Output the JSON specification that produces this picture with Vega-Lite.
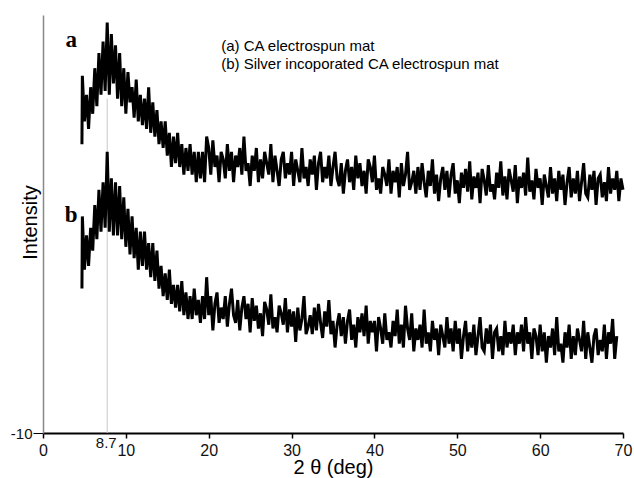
{
  "$schema": "https://vega.github.io/schema/vega-lite/v6.json",
  "width": 580,
  "height": 418,
  "autosize": "none",
  "padding": {"left": 43, "top": 15, "right": 11, "bottom": 45},
  "config": {"view": {"stroke": null}, "font": "Liberation Sans", "axis": {"grid": false}},
  "datasets": {
    "xrd": [
      {"s":"a","x":4.7,"y":66},{"s":"a","x":4.75,"y":84},{"s":"a","x":5,"y":72},{"s":"a","x":5.25,"y":79},{"s":"a","x":5.5,"y":70},{"s":"a","x":5.75,"y":81},{"s":"a","x":6,"y":74},{"s":"a","x":6.25,"y":86},{"s":"a","x":6.5,"y":76},{"s":"a","x":6.75,"y":90},{"s":"a","x":7,"y":79},{"s":"a","x":7.25,"y":93},{"s":"a","x":7.5,"y":80},{"s":"a","x":7.75,"y":98},{"s":"a","x":8,"y":79},{"s":"a","x":8.25,"y":95},{"s":"a","x":8.5,"y":82},{"s":"a","x":8.75,"y":92},{"s":"a","x":9,"y":78},{"s":"a","x":9.25,"y":90},{"s":"a","x":9.5,"y":76},{"s":"a","x":9.75,"y":86},{"s":"a","x":10,"y":74},{"s":"a","x":10.25,"y":85},{"s":"a","x":10.5,"y":77},{"s":"a","x":10.75,"y":81},{"s":"a","x":11,"y":73},{"s":"a","x":11.25,"y":83},{"s":"a","x":11.5,"y":72},{"s":"a","x":11.75,"y":79},{"s":"a","x":12,"y":71},{"s":"a","x":12.25,"y":78},{"s":"a","x":12.5,"y":70},{"s":"a","x":12.75,"y":81},{"s":"a","x":13,"y":69},{"s":"a","x":13.25,"y":77},{"s":"a","x":13.5,"y":68},{"s":"a","x":13.75,"y":75},{"s":"a","x":14,"y":66},{"s":"a","x":14.25,"y":72},{"s":"a","x":14.5,"y":65},{"s":"a","x":14.75,"y":72},{"s":"a","x":15,"y":63},{"s":"a","x":15.25,"y":69},{"s":"a","x":15.5,"y":60},{"s":"a","x":15.75,"y":68},{"s":"a","x":16,"y":61},{"s":"a","x":16.25,"y":69},{"s":"a","x":16.5,"y":60},{"s":"a","x":16.75,"y":66},{"s":"a","x":17,"y":58},{"s":"a","x":17.25,"y":65},{"s":"a","x":17.5,"y":59},{"s":"a","x":17.75,"y":66},{"s":"a","x":18,"y":58},{"s":"a","x":18.25,"y":64},{"s":"a","x":18.5,"y":56},{"s":"a","x":18.75,"y":64},{"s":"a","x":19,"y":57},{"s":"a","x":19.25,"y":64},{"s":"a","x":19.5,"y":56},{"s":"a","x":19.75,"y":68},
      {"s":"a","x":20,"y":65},{"s":"a","x":20.25,"y":58},{"s":"a","x":20.5,"y":67},{"s":"a","x":20.75,"y":60},{"s":"a","x":21,"y":63},{"s":"a","x":21.25,"y":56},{"s":"a","x":21.5,"y":64},{"s":"a","x":21.75,"y":62},{"s":"a","x":22,"y":57},{"s":"a","x":22.25,"y":66},{"s":"a","x":22.5,"y":59},{"s":"a","x":22.75,"y":64},{"s":"a","x":23,"y":56},{"s":"a","x":23.25,"y":63},{"s":"a","x":23.5,"y":60},{"s":"a","x":23.75,"y":65},{"s":"a","x":24,"y":58},{"s":"a","x":24.25,"y":68},{"s":"a","x":24.5,"y":59},{"s":"a","x":24.75,"y":61},
      {"s":"a","x":25,"y":55},{"s":"a","x":25.25,"y":63},{"s":"a","x":25.5,"y":59},{"s":"a","x":25.75,"y":65},{"s":"a","x":26,"y":56},{"s":"a","x":26.25,"y":62},{"s":"a","x":26.5,"y":57},{"s":"a","x":26.75,"y":64},{"s":"a","x":27,"y":61},{"s":"a","x":27.25,"y":58},{"s":"a","x":27.5,"y":66},{"s":"a","x":27.75,"y":56},{"s":"a","x":28,"y":63},{"s":"a","x":28.25,"y":59},{"s":"a","x":28.5,"y":55},{"s":"a","x":28.75,"y":62},{"s":"a","x":29,"y":64},{"s":"a","x":29.25,"y":57},{"s":"a","x":29.5,"y":61},{"s":"a","x":29.75,"y":58},
      {"s":"a","x":30,"y":64},{"s":"a","x":30.25,"y":55},{"s":"a","x":30.5,"y":62},{"s":"a","x":30.75,"y":59},{"s":"a","x":31,"y":56},{"s":"a","x":31.25,"y":65},{"s":"a","x":31.5,"y":57},{"s":"a","x":31.75,"y":60},{"s":"a","x":32,"y":55},{"s":"a","x":32.25,"y":62},{"s":"a","x":32.5,"y":58},{"s":"a","x":32.75,"y":63},{"s":"a","x":33,"y":54},{"s":"a","x":33.25,"y":61},{"s":"a","x":33.5,"y":64},{"s":"a","x":33.75,"y":56},{"s":"a","x":34,"y":60},{"s":"a","x":34.25,"y":57},{"s":"a","x":34.5,"y":63},{"s":"a","x":34.75,"y":55},
      {"s":"a","x":35,"y":60},{"s":"a","x":35.25,"y":64},{"s":"a","x":35.5,"y":57},{"s":"a","x":35.75,"y":55},{"s":"a","x":36,"y":61},{"s":"a","x":36.25,"y":53},{"s":"a","x":36.5,"y":59},{"s":"a","x":36.75,"y":62},{"s":"a","x":37,"y":56},{"s":"a","x":37.25,"y":60},{"s":"a","x":37.5,"y":54},{"s":"a","x":37.75,"y":63},{"s":"a","x":38,"y":57},{"s":"a","x":38.25,"y":61},{"s":"a","x":38.5,"y":55},{"s":"a","x":38.75,"y":59},{"s":"a","x":39,"y":53},{"s":"a","x":39.25,"y":62},{"s":"a","x":39.5,"y":60},{"s":"a","x":39.75,"y":56},
      {"s":"a","x":40,"y":63},{"s":"a","x":40.25,"y":54},{"s":"a","x":40.5,"y":57},{"s":"a","x":40.75,"y":53},{"s":"a","x":41,"y":60},{"s":"a","x":41.25,"y":58},{"s":"a","x":41.5,"y":55},{"s":"a","x":41.75,"y":62},{"s":"a","x":42,"y":53},{"s":"a","x":42.25,"y":59},{"s":"a","x":42.5,"y":56},{"s":"a","x":42.75,"y":60},{"s":"a","x":43,"y":52},{"s":"a","x":43.25,"y":61},{"s":"a","x":43.5,"y":55},{"s":"a","x":43.75,"y":58},{"s":"a","x":44,"y":64},{"s":"a","x":44.25,"y":54},{"s":"a","x":44.5,"y":56},{"s":"a","x":44.75,"y":59},
      {"s":"a","x":45,"y":53},{"s":"a","x":45.25,"y":60},{"s":"a","x":45.5,"y":54},{"s":"a","x":45.75,"y":61},{"s":"a","x":46,"y":56},{"s":"a","x":46.25,"y":52},{"s":"a","x":46.5,"y":59},{"s":"a","x":46.75,"y":55},{"s":"a","x":47,"y":62},{"s":"a","x":47.25,"y":53},{"s":"a","x":47.5,"y":58},{"s":"a","x":47.75,"y":51},{"s":"a","x":48,"y":57},{"s":"a","x":48.25,"y":60},{"s":"a","x":48.5,"y":54},{"s":"a","x":48.75,"y":59},{"s":"a","x":49,"y":52},{"s":"a","x":49.25,"y":58},{"s":"a","x":49.5,"y":61},{"s":"a","x":49.75,"y":53},
      {"s":"a","x":50,"y":56.5},{"s":"a","x":50.25,"y":50.5},{"s":"a","x":50.5,"y":58.5},{"s":"a","x":50.75,"y":54.5},{"s":"a","x":51,"y":59.5},{"s":"a","x":51.25,"y":53.5},{"s":"a","x":51.5,"y":61.5},{"s":"a","x":51.75,"y":51.5},{"s":"a","x":52,"y":57.5},{"s":"a","x":52.25,"y":54.5},{"s":"a","x":52.5,"y":58.5},{"s":"a","x":52.75,"y":50.5},{"s":"a","x":53,"y":59.5},{"s":"a","x":53.25,"y":56.5},{"s":"a","x":53.5,"y":52.5},{"s":"a","x":53.75,"y":60.5},{"s":"a","x":54,"y":53.5},{"s":"a","x":54.25,"y":55.5},{"s":"a","x":54.5,"y":51.5},{"s":"a","x":54.75,"y":58.5},
      {"s":"a","x":55,"y":54.5},{"s":"a","x":55.25,"y":61.5},{"s":"a","x":55.5,"y":52.5},{"s":"a","x":55.75,"y":57.5},{"s":"a","x":56,"y":51.5},{"s":"a","x":56.25,"y":59.5},{"s":"a","x":56.5,"y":56.5},{"s":"a","x":56.75,"y":53.5},{"s":"a","x":57,"y":60.5},{"s":"a","x":57.25,"y":50.5},{"s":"a","x":57.5,"y":57.5},{"s":"a","x":57.75,"y":54.5},{"s":"a","x":58,"y":58.5},{"s":"a","x":58.25,"y":52.5},{"s":"a","x":58.5,"y":62.5},{"s":"a","x":58.75,"y":53.5},{"s":"a","x":59,"y":56.5},{"s":"a","x":59.25,"y":51.5},{"s":"a","x":59.5,"y":59.5},{"s":"a","x":59.75,"y":54.5},
      {"s":"a","x":60,"y":57},{"s":"a","x":60.25,"y":50},{"s":"a","x":60.5,"y":58},{"s":"a","x":60.75,"y":55},{"s":"a","x":61,"y":52},{"s":"a","x":61.25,"y":60},{"s":"a","x":61.5,"y":53},{"s":"a","x":61.75,"y":57},{"s":"a","x":62,"y":51},{"s":"a","x":62.25,"y":59},{"s":"a","x":62.5,"y":54},{"s":"a","x":62.75,"y":58},{"s":"a","x":63,"y":50},{"s":"a","x":63.25,"y":56},{"s":"a","x":63.5,"y":60},{"s":"a","x":63.75,"y":52},{"s":"a","x":64,"y":57},{"s":"a","x":64.25,"y":53},{"s":"a","x":64.5,"y":59},{"s":"a","x":64.75,"y":51},
      {"s":"a","x":65,"y":56},{"s":"a","x":65.25,"y":61},{"s":"a","x":65.5,"y":53},{"s":"a","x":65.75,"y":52},{"s":"a","x":66,"y":58},{"s":"a","x":66.25,"y":54},{"s":"a","x":66.5,"y":59},{"s":"a","x":66.75,"y":50},{"s":"a","x":67,"y":57},{"s":"a","x":67.25,"y":58},{"s":"a","x":67.5,"y":52},{"s":"a","x":67.75,"y":56},{"s":"a","x":68,"y":51},{"s":"a","x":68.25,"y":60},{"s":"a","x":68.5,"y":53},{"s":"a","x":68.75,"y":57},{"s":"a","x":69,"y":54},{"s":"a","x":69.25,"y":59},{"s":"a","x":69.5,"y":51},{"s":"a","x":69.75,"y":57},{"s":"a","x":70,"y":54},
      {"s":"b","x":4.7,"y":28},{"s":"b","x":4.75,"y":47},{"s":"b","x":5,"y":33},{"s":"b","x":5.25,"y":42},{"s":"b","x":5.5,"y":34},{"s":"b","x":5.75,"y":44},{"s":"b","x":6,"y":38},{"s":"b","x":6.25,"y":50},{"s":"b","x":6.5,"y":41},{"s":"b","x":6.75,"y":54},{"s":"b","x":7,"y":43},{"s":"b","x":7.25,"y":56},{"s":"b","x":7.5,"y":44},{"s":"b","x":7.75,"y":64},{"s":"b","x":8,"y":43},{"s":"b","x":8.25,"y":57},{"s":"b","x":8.5,"y":42},{"s":"b","x":8.75,"y":56},{"s":"b","x":9,"y":42},{"s":"b","x":9.25,"y":55},{"s":"b","x":9.5,"y":41},{"s":"b","x":9.75,"y":52},{"s":"b","x":10,"y":39},{"s":"b","x":10.25,"y":49},{"s":"b","x":10.5,"y":37},{"s":"b","x":10.75,"y":47},{"s":"b","x":11,"y":36},{"s":"b","x":11.25,"y":44},{"s":"b","x":11.5,"y":33},{"s":"b","x":11.75,"y":43},{"s":"b","x":12,"y":34},{"s":"b","x":12.25,"y":43},{"s":"b","x":12.5,"y":33},{"s":"b","x":12.75,"y":40},{"s":"b","x":13,"y":31},{"s":"b","x":13.25,"y":40},{"s":"b","x":13.5,"y":30},{"s":"b","x":13.75,"y":38},{"s":"b","x":14,"y":28},{"s":"b","x":14.25,"y":34},{"s":"b","x":14.5,"y":26},{"s":"b","x":14.75,"y":32},{"s":"b","x":15,"y":25},{"s":"b","x":15.25,"y":33},{"s":"b","x":15.5,"y":24},{"s":"b","x":15.75,"y":29},{"s":"b","x":16,"y":23},{"s":"b","x":16.25,"y":29},{"s":"b","x":16.5,"y":22},{"s":"b","x":16.75,"y":30},{"s":"b","x":17,"y":21},{"s":"b","x":17.25,"y":27},{"s":"b","x":17.5,"y":20},{"s":"b","x":17.75,"y":26},{"s":"b","x":18,"y":20},{"s":"b","x":18.25,"y":28},{"s":"b","x":18.5,"y":21},{"s":"b","x":18.75,"y":25},{"s":"b","x":19,"y":19},{"s":"b","x":19.25,"y":26},{"s":"b","x":19.5,"y":20},{"s":"b","x":19.75,"y":31},
      {"s":"b","x":20,"y":21},{"s":"b","x":20.25,"y":26},{"s":"b","x":20.5,"y":17},{"s":"b","x":20.75,"y":24},{"s":"b","x":21,"y":27},{"s":"b","x":21.25,"y":19},{"s":"b","x":21.5,"y":23},{"s":"b","x":21.75,"y":20},{"s":"b","x":22,"y":26},{"s":"b","x":22.25,"y":18},{"s":"b","x":22.5,"y":24},{"s":"b","x":22.75,"y":28},{"s":"b","x":23,"y":21},{"s":"b","x":23.25,"y":19},{"s":"b","x":23.5,"y":25},{"s":"b","x":23.75,"y":17},{"s":"b","x":24,"y":23},{"s":"b","x":24.25,"y":26},{"s":"b","x":24.5,"y":20},{"s":"b","x":24.75,"y":24},
      {"s":"b","x":25,"y":16.5},{"s":"b","x":25.25,"y":25.5},{"s":"b","x":25.5,"y":19.5},{"s":"b","x":25.75,"y":23.5},{"s":"b","x":26,"y":17.5},{"s":"b","x":26.25,"y":21.5},{"s":"b","x":26.5,"y":15.5},{"s":"b","x":26.75,"y":24.5},{"s":"b","x":27,"y":22.5},{"s":"b","x":27.25,"y":18.5},{"s":"b","x":27.5,"y":26.5},{"s":"b","x":27.75,"y":17.5},{"s":"b","x":28,"y":20.5},{"s":"b","x":28.25,"y":16.5},{"s":"b","x":28.5,"y":23.5},{"s":"b","x":28.75,"y":21.5},{"s":"b","x":29,"y":18.5},{"s":"b","x":29.25,"y":25.5},{"s":"b","x":29.5,"y":16.5},{"s":"b","x":29.75,"y":22.5},
      {"s":"b","x":30,"y":18},{"s":"b","x":30.25,"y":22},{"s":"b","x":30.5,"y":14},{"s":"b","x":30.75,"y":23},{"s":"b","x":31,"y":17},{"s":"b","x":31.25,"y":20},{"s":"b","x":31.5,"y":26},{"s":"b","x":31.75,"y":16},{"s":"b","x":32,"y":18},{"s":"b","x":32.25,"y":21},{"s":"b","x":32.5,"y":16},{"s":"b","x":32.75,"y":23},{"s":"b","x":33,"y":17},{"s":"b","x":33.25,"y":24},{"s":"b","x":33.5,"y":19},{"s":"b","x":33.75,"y":15},{"s":"b","x":34,"y":22},{"s":"b","x":34.25,"y":18},{"s":"b","x":34.5,"y":25},{"s":"b","x":34.75,"y":16},
      {"s":"b","x":35,"y":19.5},{"s":"b","x":35.25,"y":12.5},{"s":"b","x":35.5,"y":18.5},{"s":"b","x":35.75,"y":21.5},{"s":"b","x":36,"y":15.5},{"s":"b","x":36.25,"y":20.5},{"s":"b","x":36.5,"y":13.5},{"s":"b","x":36.75,"y":19.5},{"s":"b","x":37,"y":22.5},{"s":"b","x":37.25,"y":14.5},{"s":"b","x":37.5,"y":18.5},{"s":"b","x":37.75,"y":12.5},{"s":"b","x":38,"y":20.5},{"s":"b","x":38.25,"y":16.5},{"s":"b","x":38.5,"y":21.5},{"s":"b","x":38.75,"y":15.5},{"s":"b","x":39,"y":23.5},{"s":"b","x":39.25,"y":13.5},{"s":"b","x":39.5,"y":19.5},{"s":"b","x":39.75,"y":16.5},
      {"s":"b","x":40,"y":19.5},{"s":"b","x":40.25,"y":11.5},{"s":"b","x":40.5,"y":20.5},{"s":"b","x":40.75,"y":17.5},{"s":"b","x":41,"y":13.5},{"s":"b","x":41.25,"y":21.5},{"s":"b","x":41.5,"y":14.5},{"s":"b","x":41.75,"y":16.5},{"s":"b","x":42,"y":12.5},{"s":"b","x":42.25,"y":19.5},{"s":"b","x":42.5,"y":15.5},{"s":"b","x":42.75,"y":22.5},{"s":"b","x":43,"y":13.5},{"s":"b","x":43.25,"y":18.5},{"s":"b","x":43.5,"y":12.5},{"s":"b","x":43.75,"y":23.5},{"s":"b","x":44,"y":17.5},{"s":"b","x":44.25,"y":14.5},{"s":"b","x":44.5,"y":21.5},{"s":"b","x":44.75,"y":11.5},
      {"s":"b","x":45,"y":17.5},{"s":"b","x":45.25,"y":14.5},{"s":"b","x":45.5,"y":18.5},{"s":"b","x":45.75,"y":12.5},{"s":"b","x":46,"y":22.5},{"s":"b","x":46.25,"y":13.5},{"s":"b","x":46.5,"y":16.5},{"s":"b","x":46.75,"y":11.5},{"s":"b","x":47,"y":19.5},{"s":"b","x":47.25,"y":14.5},{"s":"b","x":47.5,"y":17.5},{"s":"b","x":47.75,"y":10.5},{"s":"b","x":48,"y":18.5},{"s":"b","x":48.25,"y":15.5},{"s":"b","x":48.5,"y":12.5},{"s":"b","x":48.75,"y":20.5},{"s":"b","x":49,"y":13.5},{"s":"b","x":49.25,"y":17.5},{"s":"b","x":49.5,"y":11.5},{"s":"b","x":49.75,"y":19.5},
      {"s":"b","x":50,"y":13.5},{"s":"b","x":50.25,"y":17.5},{"s":"b","x":50.5,"y":9.5},{"s":"b","x":50.75,"y":15.5},{"s":"b","x":51,"y":19.5},{"s":"b","x":51.25,"y":11.5},{"s":"b","x":51.5,"y":16.5},{"s":"b","x":51.75,"y":12.5},{"s":"b","x":52,"y":18.5},{"s":"b","x":52.25,"y":10.5},{"s":"b","x":52.5,"y":15.5},{"s":"b","x":52.75,"y":20.5},{"s":"b","x":53,"y":12.5},{"s":"b","x":53.25,"y":11.5},{"s":"b","x":53.5,"y":17.5},{"s":"b","x":53.75,"y":13.5},{"s":"b","x":54,"y":18.5},{"s":"b","x":54.25,"y":9.5},{"s":"b","x":54.5,"y":16.5},{"s":"b","x":54.75,"y":17.5},
      {"s":"b","x":55,"y":11.5},{"s":"b","x":55.25,"y":15.5},{"s":"b","x":55.5,"y":10.5},{"s":"b","x":55.75,"y":19.5},{"s":"b","x":56,"y":12.5},{"s":"b","x":56.25,"y":16.5},{"s":"b","x":56.5,"y":13.5},{"s":"b","x":56.75,"y":18.5},{"s":"b","x":57,"y":10.5},{"s":"b","x":57.25,"y":16.5},{"s":"b","x":57.5,"y":13.5},{"s":"b","x":57.75,"y":18.5},{"s":"b","x":58,"y":11.5},{"s":"b","x":58.25,"y":20.5},{"s":"b","x":58.5,"y":13.5},{"s":"b","x":58.75,"y":16.5},{"s":"b","x":59,"y":9.5},{"s":"b","x":59.25,"y":17.5},{"s":"b","x":59.5,"y":15.5},{"s":"b","x":59.75,"y":10.5},
      {"s":"b","x":60,"y":18.5},{"s":"b","x":60.25,"y":11.5},{"s":"b","x":60.5,"y":16.5},{"s":"b","x":60.75,"y":8.5},{"s":"b","x":61,"y":15.5},{"s":"b","x":61.25,"y":12.5},{"s":"b","x":61.5,"y":17.5},{"s":"b","x":61.75,"y":10.5},{"s":"b","x":62,"y":20.5},{"s":"b","x":62.25,"y":11.5},{"s":"b","x":62.5,"y":13.5},{"s":"b","x":62.75,"y":8.5},{"s":"b","x":63,"y":16.5},{"s":"b","x":63.25,"y":12.5},{"s":"b","x":63.5,"y":18.5},{"s":"b","x":63.75,"y":9.5},{"s":"b","x":64,"y":15.5},{"s":"b","x":64.25,"y":10.5},{"s":"b","x":64.5,"y":17.5},{"s":"b","x":64.75,"y":14.5},
      {"s":"b","x":65,"y":11.5},{"s":"b","x":65.25,"y":19.5},{"s":"b","x":65.5,"y":9.5},{"s":"b","x":65.75,"y":16.5},{"s":"b","x":66,"y":12.5},{"s":"b","x":66.25,"y":8.5},{"s":"b","x":66.5,"y":15.5},{"s":"b","x":66.75,"y":17.5},{"s":"b","x":67,"y":10.5},{"s":"b","x":67.25,"y":14.5},{"s":"b","x":67.5,"y":11.5},{"s":"b","x":67.75,"y":18.5},{"s":"b","x":68,"y":9.5},{"s":"b","x":68.25,"y":16.5},{"s":"b","x":68.5,"y":13.5},{"s":"b","x":68.75,"y":20},{"s":"b","x":69,"y":9.5},{"s":"b","x":69.25,"y":15.5}
    ]
  },
  "encoding": {
    "x": {
      "field": "x", "type": "quantitative",
      "scale": {"domain": [0, 70], "nice": false, "zero": false},
      "axis": {
        "title": "2 θ (deg)", "values": [0, 10, 20, 30, 40, 50, 60, 70],
        "tickSize": 5, "tickWidth": 1.5, "tickColor": "#000",
        "domainColor": "#000", "domainWidth": 2,
        "labelFontSize": 16, "labelPadding": 4, "labelColor": "#111", "labelFont": "Liberation Sans", "labelFlush": false,
        "titleFont": "Liberation Sans", "titleFontSize": 20, "titleFontWeight": "normal", "titleColor": "#000",
        "titleY": 40, "titleBaseline": "alphabetic"
      }
    },
    "y": {
      "field": "y", "type": "quantitative",
      "scale": {"domain": [-10, 100], "nice": false, "zero": false},
      "axis": {
        "title": "Intensity", "values": [-10],
        "labelExpr": "'-' + format(abs(datum.value), 'd')",
        "tickSize": 10, "tickColor": "#000", "domainColor": "#888", "domainWidth": 1.5,
        "labelFontSize": 15, "labelPadding": 1, "labelColor": "#111", "labelFont": "Liberation Sans",
        "titleFont": "Liberation Sans", "titleFontSize": 20, "titleFontWeight": "normal", "titleColor": "#000",
        "titleX": -7, "titleY": 207, "titleBaseline": "alphabetic"
      }
    }
  },
  "layer": [
    {
      "data": {"values": [{"x": 7.75, "y": -10, "y2": 78}]},
      "mark": {"type": "rule", "color": "#c8c8c8", "strokeWidth": 1},
      "encoding": {"y2": {"field": "y2"}}
    },
    {
      "data": {"name": "xrd"},
      "mark": {"type": "line", "color": "#000", "strokeWidth": 3},
      "encoding": {"detail": {"field": "s"}}
    },
    {
      "data": {"values": [{"x": 3.4, "y": 91.6, "t": "a"}, {"x": 3.4, "y": 45.5, "t": "b"}]},
      "mark": {"type": "text", "font": "Liberation Serif", "fontWeight": "bold", "fontSize": 23, "align": "center", "baseline": "alphabetic", "color": "#000"},
      "encoding": {"text": {"field": "t"}}
    },
    {
      "data": {"values": [{"x": 21.5, "y": 90.6, "t": "(a) CA electrospun mat"}, {"x": 21.5, "y": 85.7, "t": "(b) Silver incoporated CA electrospun mat"}]},
      "mark": {"type": "text", "font": "Liberation Sans", "fontSize": 15, "align": "left", "baseline": "alphabetic", "color": "#000"},
      "encoding": {"text": {"field": "t"}}
    },
    {
      "data": {"values": [{"x": 7.75, "y": -10, "t": "8.7"}]},
      "mark": {"type": "text", "font": "Liberation Sans", "fontSize": 15, "align": "center", "baseline": "top", "dy": 3, "dx": -1, "color": "#111"},
      "encoding": {"text": {"field": "t"}}
    }
  ]
}
